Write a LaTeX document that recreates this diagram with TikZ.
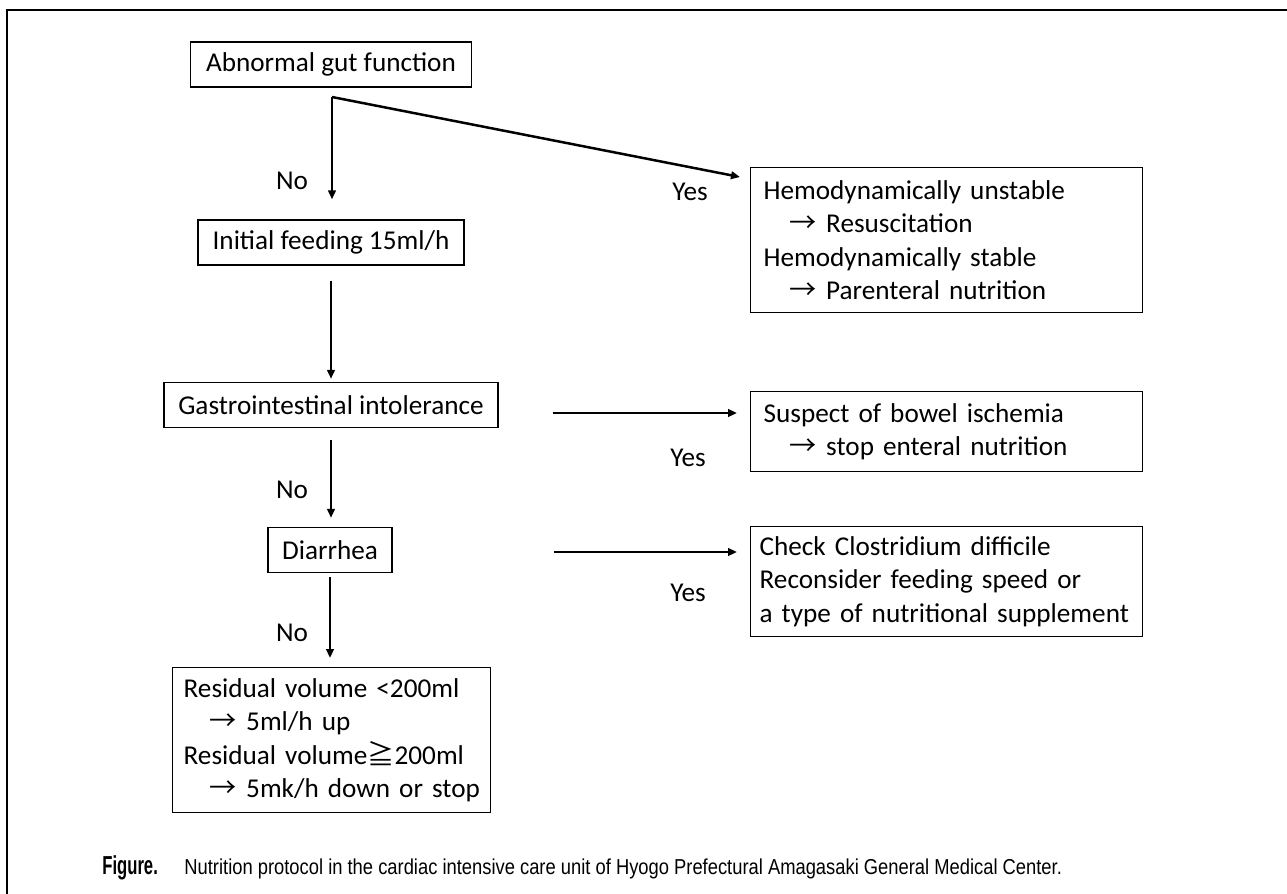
\documentclass[tikz,border=0pt]{standalone}
\usepackage{fontspec}
\setmainfont{Carlito}
\newfontfamily\capfont[FakeStretch=0.85]{Liberation Sans}
\newfontfamily\capboldfont[FakeStretch=0.64]{Liberation Sans}
\newfontfamily\jpfont{Noto Sans CJK JP}
\usetikzlibrary{arrows.meta,positioning}

\newcommand{\sarrow}{\hspace*{0.95em}{\jpfont →}\hspace{0.35em}}
\newcommand{\sgeqq}{{\jpfont ≧}}

\begin{document}
\begin{tikzpicture}[x=0.5pt,y=-0.5pt,
  font=\fontsize{13.6}{16.6}\selectfont,
  box/.style={draw, line width=0.65pt, inner xsep=7pt, inner ysep=0pt, minimum height=22.5pt},
  listbox/.style={draw, line width=0.65pt, inner xsep=6.5pt, inner ysep=0pt,
    align=left, anchor=north west, text width=#1},
  arr/.style={line width=1.25pt, -{Triangle[length=4.5pt,width=3.8pt]}},
  lbl/.style={inner sep=0pt}]
  \useasboundingbox (0,0) rectangle (1287,894);

  % --- page frame (top and left rule) ---
  \draw[line width=1.3pt] (7,894) -- (7,10) -- (1287,10);

  % --- main column ---
  \node[box, minimum width=140.5pt] (abn) at (331,64.5) {Abnormal gut function};
  \coordinate (split) at (332,97);
  \node[box, minimum width=133pt] (init) at (331,242.5) {Initial feeding 15ml/h};
  \node[box, minimum width=167pt] (gi) at (331,405) {Gastrointestinal intolerance};
  \node[box, minimum width=61pt] (dia) at (330,550) {Diarrhea};
  \node[listbox=148pt, inner xsep=5.5pt, minimum height=72.5pt] (res) at (172,667)
    {Residual volume <200ml\\ \sarrow 5ml/h up\\ Residual volume\sgeqq 200ml\\ \mbox{\sarrow 5mk/h down or stop}};

  % --- right column ---
  \node[listbox=183pt, minimum height=72.5pt] (hemo) at (750,167)
    {Hemodynamically unstable\\ \sarrow Resuscitation\\ Hemodynamically stable\\ \sarrow Parenteral nutrition};
  \node[listbox=183pt, minimum height=40pt] (sus) at (750,391)
    {Suspect of bowel ischemia\\ \sarrow stop enteral nutrition};
  \node[listbox=187pt, inner xsep=4.5pt, minimum height=55pt] (chk) at (750,526)
    {Check Clostridium difficile\\ Reconsider feeding speed or\\ \mbox{a type of nutritional supplement}};

  % --- connectors ---
  \draw[arr, shorten >=10pt] (split) -- (split |- init.north);
  \draw[arr] (split) -- ([shift={(-10,10)}]hemo.north west);
  \draw[arr, shorten <=7.5pt, shorten >=1.5pt] (init.south) -- (init.south |- gi.north);
  \draw[arr, shorten <=6pt, shorten >=4.5pt] (gi.south) -- (gi.south |- dia.north);
  \draw[arr, shorten <=2pt, shorten >=4.5pt] (dia.south) -- (dia.south |- res.north);
  \draw[arr, shorten <=27pt, shorten >=6.5pt] ([yshift=-4pt]gi.east) -- ([yshift=-4pt]gi.east -| sus.west);
  \draw[arr, shorten <=80.5pt, shorten >=6.5pt] ([yshift=-1pt]dia.east) -- ([yshift=-1pt]dia.east -| chk.west);

  % --- branch labels ---
  \node[lbl] (no1) at (292,181) {No};
  \node[lbl] (yes1) at (690,192) {Yes};
  \node[lbl] (yes2) at (688,458) {Yes};
  \node[lbl] (no2) at (292,490) {No};
  \node[lbl] (yes3) at (688,593) {Yes};
  \node[lbl] (no3) at (292,633) {No};

  % --- caption ---
  \node[anchor=base west, inner sep=0pt, font=\capboldfont\bfseries\fontsize{13}{15}\selectfont]
    (figlbl) at (102,874) {Figure.};
  \node[anchor=base west, inner sep=0pt, font=\capfont\fontsize{10.8}{13}\selectfont]
    (caption) at (184,874) {Nutrition protocol in the cardiac intensive care unit of Hyogo Prefectural Amagasaki General Medical Center.};
\end{tikzpicture}
\end{document}
